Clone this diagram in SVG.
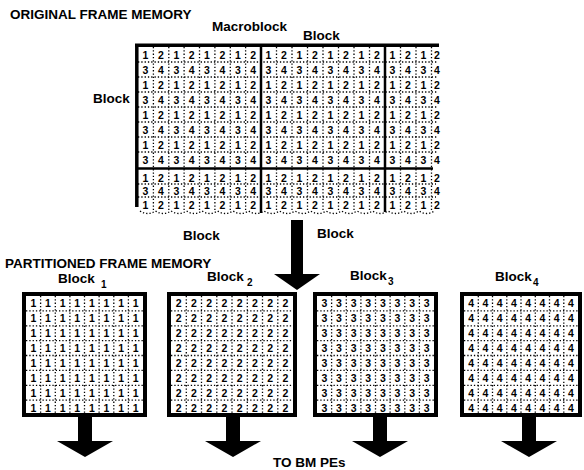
<svg xmlns="http://www.w3.org/2000/svg" width="584" height="470" viewBox="0 0 584 470">
<style>
text{font-family:"Liberation Sans",Arial,sans-serif;font-weight:bold;fill:#000}
.lbl{font-size:13.5px}
.sub{font-size:10px}
.dg{font-size:10.5px;text-anchor:middle}
.dot{fill:none;stroke:#000;stroke-width:1.3;stroke-dasharray:1.3 2}
.thick{fill:none;stroke:#000}
.arrow{fill:#000;stroke:none}
</style>
<rect width="584" height="470" fill="#fff"/>

<g id="labels">
<text class="lbl" x="10" y="19">ORIGINAL FRAME MEMORY</text>
<text class="lbl" x="212" y="31">Macroblock</text>
<text class="lbl" x="303" y="40">Block</text>
<text class="lbl" x="93" y="103">Block</text>
<text class="lbl" x="183" y="240">Block</text>
<text class="lbl" x="317" y="238">Block</text>
<text class="lbl" x="5" y="268">PARTITIONED FRAME MEMORY</text>
<text class="lbl" x="273" y="467">TO BM PEs</text>
</g>

<g id="original-frame">
<path class="dot" d="M153.4 47V211M168.8 47V211M184.1 47V211M199.5 47V211M214.9 47V211M230.3 47V211M245.6 47V211M276.5 47V211M292 47V211M307.5 47V211M323 47V211M338.5 47V211M354 47V211M369.5 47V211M400.5 47V211M416 47V211M431.5 47V211"/>
<path class="dot" d="M138 62H438M138 77H438M138 92H438M138 107H438M138 122H438M138 137H438M138 152H438M138 184H436M138 197H436"/>
<path class="dot" d="M140 211q7.75 5 15.5 0q7.75 5 15.5 0q7.75 5 15.5 0q7.75 5 15.5 0q7.75 5 15.5 0q7.75 5 15.5 0q7.75 5 15.5 0q7.75 5 15.5 0q7.75 5 15.5 0q7.75 5 15.5 0q7.75 5 15.5 0q7.75 5 15.5 0q7.75 5 15.5 0q7.75 5 15.5 0q7.75 5 15.5 0q7.75 5 15.5 0q7.75 5 15.5 0q7.75 5 15.5 0q7.75 5 15.5 0"/>
<g class="dg">
<text x="145.5 160.9 176.3 191.6 207 222.4 237.8 253.1 268.5 284 299.5 315 330.5 346 361.5 377 392.5 408 423.5 437" y="58.5">12121212121212121212</text>
<text x="145.5 160.9 176.3 191.6 207 222.4 237.8 253.1 268.5 284 299.5 315 330.5 346 361.5 377 392.5 408 423.5 437" y="73.5">34343434343434343434</text>
<text x="145.5 160.9 176.3 191.6 207 222.4 237.8 253.1 268.5 284 299.5 315 330.5 346 361.5 377 392.5 408 423.5 437" y="88.5">12121212121212121212</text>
<text x="145.5 160.9 176.3 191.6 207 222.4 237.8 253.1 268.5 284 299.5 315 330.5 346 361.5 377 392.5 408 423.5 437" y="103.5">34343434343434343434</text>
<text x="145.5 160.9 176.3 191.6 207 222.4 237.8 253.1 268.5 284 299.5 315 330.5 346 361.5 377 392.5 408 423.5 437" y="118.5">12121212121212121212</text>
<text x="145.5 160.9 176.3 191.6 207 222.4 237.8 253.1 268.5 284 299.5 315 330.5 346 361.5 377 392.5 408 423.5 437" y="133.5">34343434343434343434</text>
<text x="145.5 160.9 176.3 191.6 207 222.4 237.8 253.1 268.5 284 299.5 315 330.5 346 361.5 377 392.5 408 423.5 437" y="148.5">12121212121212121212</text>
<text x="145.5 160.9 176.3 191.6 207 222.4 237.8 253.1 268.5 284 299.5 315 330.5 346 361.5 377 392.5 408 423.5 437" y="163.5">34343434343434343434</text>
<text x="145.5 160.9 176.3 191.6 207 222.4 237.8 253.1 268.5 284 299.5 315 330.5 346 361.5 377 392.5 408 423.5 437" y="182">12121212121212121212</text>
<text x="145.5 160.9 176.3 191.6 207 222.4 237.8 253.1 268.5 284 299.5 315 330.5 346 361.5 377 392.5 408 423.5 437" y="195">34343434343434343434</text>
<text x="145.5 160.9 176.3 191.6 207 222.4 237.8 253.1 268.5 284 299.5 315 330.5 346 361.5 377 392.5 408 423.5 437" y="209">12121212121212121212</text>
</g>
<path class="thick" stroke-width="3.5" d="M135 45.3H439M136.8 44V207"/>
<path class="thick" stroke-width="2.5" d="M261 46V213M385 46V212M137 168.5H433"/>
</g>

<g id="block1">
<rect x="24" y="294" width="121" height="121" fill="#fff" stroke="#000" stroke-width="4"/>
<path class="dot" d="M40.6 296V415M55.3 296V415M69.9 296V415M84.5 296V415M99.1 296V415M113.8 296V415M128.4 296V415M26 310.9H143M26 325.8H143M26 340.6H143M26 355.5H143M26 370.4H143M26 385.3H143M26 400.1H143"/>
<g class="dg">
<text x="33.3 47.9 62.6 77.2 91.8 106.4 121.1 135.7" y="307.4">11111111</text>
<text x="33.3 47.9 62.6 77.2 91.8 106.4 121.1 135.7" y="322.3">11111111</text>
<text x="33.3 47.9 62.6 77.2 91.8 106.4 121.1 135.7" y="337.2">11111111</text>
<text x="33.3 47.9 62.6 77.2 91.8 106.4 121.1 135.7" y="352.1">11111111</text>
<text x="33.3 47.9 62.6 77.2 91.8 106.4 121.1 135.7" y="367">11111111</text>
<text x="33.3 47.9 62.6 77.2 91.8 106.4 121.1 135.7" y="381.8">11111111</text>
<text x="33.3 47.9 62.6 77.2 91.8 106.4 121.1 135.7" y="396.7">11111111</text>
<text x="33.3 47.9 62.6 77.2 91.8 106.4 121.1 135.7" y="411.6">11111111</text>
</g>
<text class="lbl" x="58" y="283">Block</text><text class="sub" x="101" y="288">1</text>
</g>

<g id="block2">
<rect x="169" y="294" width="126" height="121" fill="#fff" stroke="#000" stroke-width="4"/>
<path class="dot" d="M186.3 296V415M201.5 296V415M216.8 296V415M232 296V415M247.3 296V415M262.5 296V415M277.8 296V415M171 310.9H293M171 325.8H293M171 340.6H293M171 355.5H293M171 370.4H293M171 385.3H293M171 400.1H293"/>
<g class="dg">
<text x="178.6 193.9 209.1 224.4 239.6 254.9 270.1 285.4" y="307.4">22222222</text>
<text x="178.6 193.9 209.1 224.4 239.6 254.9 270.1 285.4" y="322.3">22222222</text>
<text x="178.6 193.9 209.1 224.4 239.6 254.9 270.1 285.4" y="337.2">22222222</text>
<text x="178.6 193.9 209.1 224.4 239.6 254.9 270.1 285.4" y="352.1">22222222</text>
<text x="178.6 193.9 209.1 224.4 239.6 254.9 270.1 285.4" y="367">22222222</text>
<text x="178.6 193.9 209.1 224.4 239.6 254.9 270.1 285.4" y="381.8">22222222</text>
<text x="178.6 193.9 209.1 224.4 239.6 254.9 270.1 285.4" y="396.7">22222222</text>
<text x="178.6 193.9 209.1 224.4 239.6 254.9 270.1 285.4" y="411.6">22222222</text>
</g>
<text class="lbl" x="207" y="281">Block</text><text class="sub" x="247" y="286">2</text>
</g>

<g id="block3">
<rect x="315" y="294" width="121" height="121" fill="#fff" stroke="#000" stroke-width="4"/>
<path class="dot" d="M331.6 296V415M346.3 296V415M360.9 296V415M375.5 296V415M390.1 296V415M404.8 296V415M419.4 296V415M317 310.9H434M317 325.8H434M317 340.6H434M317 355.5H434M317 370.4H434M317 385.3H434M317 400.1H434"/>
<g class="dg">
<text x="324.3 338.9 353.6 368.2 382.8 397.4 412.1 426.7" y="307.4">33333333</text>
<text x="324.3 338.9 353.6 368.2 382.8 397.4 412.1 426.7" y="322.3">33333333</text>
<text x="324.3 338.9 353.6 368.2 382.8 397.4 412.1 426.7" y="337.2">33333333</text>
<text x="324.3 338.9 353.6 368.2 382.8 397.4 412.1 426.7" y="352.1">33333333</text>
<text x="324.3 338.9 353.6 368.2 382.8 397.4 412.1 426.7" y="367">33333333</text>
<text x="324.3 338.9 353.6 368.2 382.8 397.4 412.1 426.7" y="381.8">33333333</text>
<text x="324.3 338.9 353.6 368.2 382.8 397.4 412.1 426.7" y="396.7">33333333</text>
<text x="324.3 338.9 353.6 368.2 382.8 397.4 412.1 426.7" y="411.6">33333333</text>
</g>
<text class="lbl" x="350" y="280">Block</text><text class="sub" x="388" y="285">3</text>
</g>

<g id="block4">
<rect x="462" y="294" width="118" height="121" fill="#fff" stroke="#000" stroke-width="4"/>
<path class="dot" d="M478.3 296V415M492.5 296V415M506.8 296V415M521 296V415M535.3 296V415M549.5 296V415M563.8 296V415M464 310.9H578M464 325.8H578M464 340.6H578M464 355.5H578M464 370.4H578M464 385.3H578M464 400.1H578"/>
<g class="dg">
<text x="471.1 485.4 499.6 513.9 528.1 542.4 556.6 570.9" y="307.4">44444444</text>
<text x="471.1 485.4 499.6 513.9 528.1 542.4 556.6 570.9" y="322.3">44444444</text>
<text x="471.1 485.4 499.6 513.9 528.1 542.4 556.6 570.9" y="337.2">44444444</text>
<text x="471.1 485.4 499.6 513.9 528.1 542.4 556.6 570.9" y="352.1">44444444</text>
<text x="471.1 485.4 499.6 513.9 528.1 542.4 556.6 570.9" y="367">44444444</text>
<text x="471.1 485.4 499.6 513.9 528.1 542.4 556.6 570.9" y="381.8">44444444</text>
<text x="471.1 485.4 499.6 513.9 528.1 542.4 556.6 570.9" y="396.7">44444444</text>
<text x="471.1 485.4 499.6 513.9 528.1 542.4 556.6 570.9" y="411.6">44444444</text>
</g>
<text class="lbl" x="495" y="281">Block</text><text class="sub" x="533" y="286">4</text>
</g>

<g id="connectors">
<path class="arrow" d="M291 220H303V274H320L297 290L274 274H291Z"/>
<path class="arrow" d="M78 417H92V441H113L85 457L57 441H78Z"/>
<path class="arrow" d="M226 417H240V441H261L233 457L205 441H226Z"/>
<path class="arrow" d="M373 417H387V441H408L380 457L352 441H373Z"/>
<path class="arrow" d="M522 417H536V441H557L529 457L501 441H522Z"/>
</g>
</svg>
